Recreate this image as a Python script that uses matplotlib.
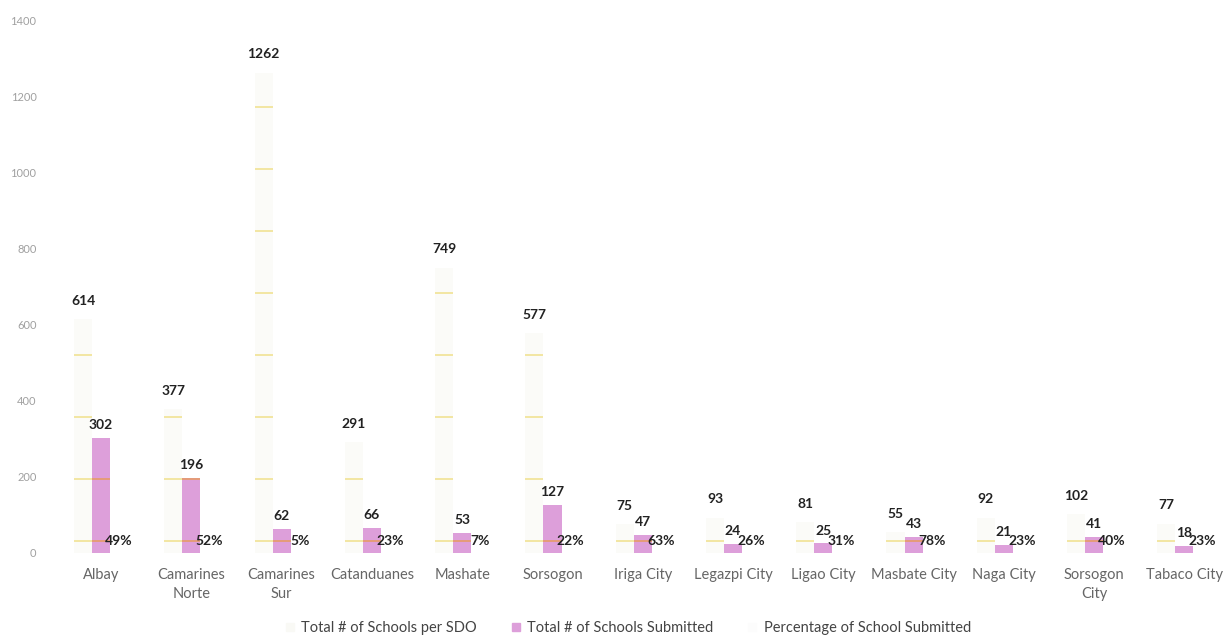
import numpy as np
import matplotlib
matplotlib.use('Agg')
import matplotlib.pyplot as plt
from matplotlib.patches import Patch

# values
sdo_names = ['Albay', 'Camarines\nNorte', 'Camarines\nSur', 'Catanduanes', 'Mashate',
             'Sorsogon', 'Iriga City', 'Legazpi City', 'Ligao City', 'Masbate City',
             'Naga City', 'Sorsogon\nCity', 'Tabaco City']
total_schools = [614, 377, 1262, 291, 749, 577, 75, 93, 81, 55, 92, 102, 77]
submitted = [302, 196, 62, 66, 53, 127, 47, 24, 25, 43, 21, 41, 18]
pct_submitted = [0.49, 0.52, 0.05, 0.23, 0.07, 0.22, 0.63, 0.26, 0.31, 0.78, 0.23, 0.40, 0.23]
y_ticks = [0, 200, 400, 600, 800, 1000, 1200, 1400]

plt.rcParams['font.family'] = ['Lato', 'DejaVu Sans']

fig = plt.figure(figsize=(12.25, 6.39), dpi=100)
ax = fig.add_axes([0.0457, 0.1346, 0.9543, 0.834])

x = np.arange(len(sdo_names))
w = 0.2

bars_total = ax.bar(x - w, total_schools, w, color='#fbfbf8', zorder=1)
bars_sub = ax.bar(x, submitted, w, color='#dd9fda', zorder=2)
bars_pct = ax.bar(x + w, pct_submitted, w, color='#fcfcfc', zorder=1)

# the scan shows faint yellow dashes running through the bars
dash_start, dash_step = 31, 163
for bars, col in [(bars_total, '#f2e6a2'), (bars_sub, '#e59b78')]:
    for b in bars:
        levels = np.arange(dash_start, b.get_height(), dash_step)
        ax.hlines(levels, b.get_x(), b.get_x() + b.get_width(),
                  colors=col, linewidth=1.4, zorder=3)

ax.bar_label(bars_total, labels=[str(v) for v in total_schools], padding=9,
             fontsize=10, color='#222222', fontweight='bold')
ax.bar_label(bars_sub, labels=[str(v) for v in submitted], padding=5,
             fontsize=10, color='#222222', fontweight='bold')
ax.bar_label(bars_pct, labels=['{:.0%}'.format(v) for v in pct_submitted], padding=4,
             fontsize=10, color='#222222', fontweight='bold')

ax.set_xlim(-0.5, 12.45)
ax.set_ylim(0, 1400)
ax.set_yticks(y_ticks)
ax.set_yticklabels([str(t) for t in y_ticks], fontsize=8, color='#a0a0a0')
ax.set_xticks(x)
ax.set_xticklabels(sdo_names, fontsize=10.5, color='#666666', linespacing=1.45)
ax.tick_params(length=0, pad=11)
ax.tick_params(axis='y', pad=14)
for s in ax.spines.values():
    s.set_visible(False)

handles = [Patch(color='#f9f9f5'), Patch(color='#dd9fda'), Patch(color='#fcfcfc')]
labels = ['Total # of Schools per SDO', 'Total # of Schools Submitted',
          'Percentage of School Submitted']
fig.legend(handles, labels, loc='center', bbox_to_anchor=(0.513, 0.017), ncol=3,
           frameon=False, fontsize=10.5, handlelength=0.55, handleheight=0.55,
           columnspacing=2.4, handletextpad=0.5, labelcolor='#444444')

fig.savefig('out.png', dpi=100, facecolor='white')
